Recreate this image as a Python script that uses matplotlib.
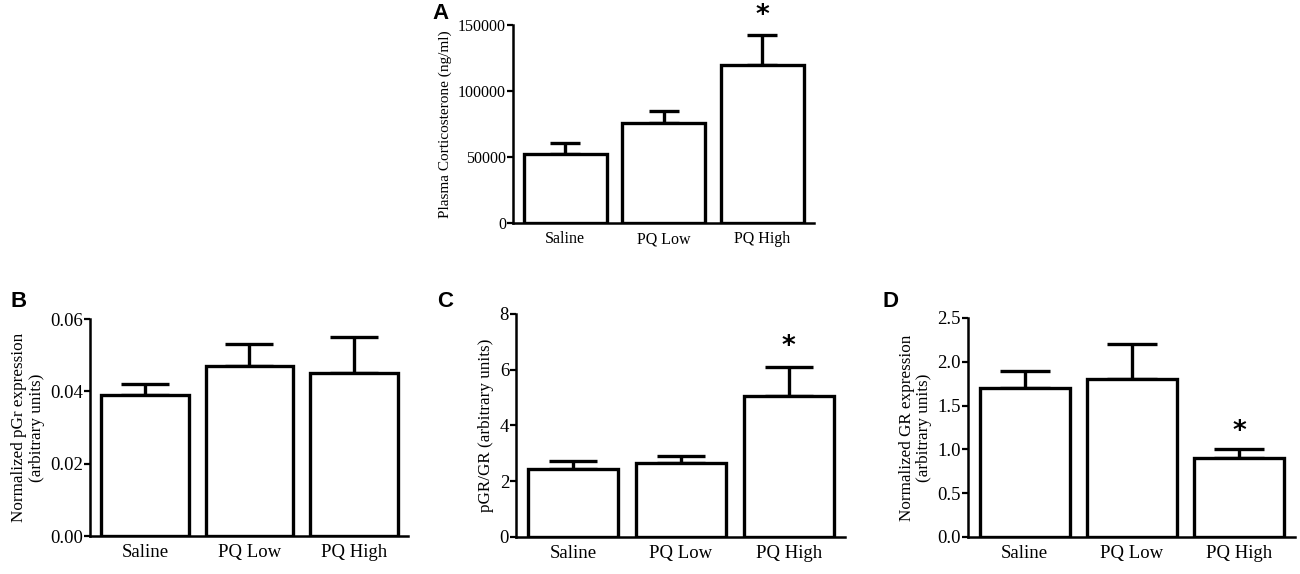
import matplotlib
matplotlib.use('Agg')
import matplotlib.pyplot as plt
import numpy as np

groups = ['Saline', 'PQ Low', 'PQ High']

cort_mean = [52000, 75500, 120000]
cort_err = [8500, 9500, 22500]

pgr_mean = [0.039, 0.047, 0.045]
pgr_err = [0.003, 0.006, 0.010]

ratio_mean = [2.45, 2.65, 5.05]
ratio_err = [0.27, 0.25, 1.05]

gr_mean = [1.70, 1.80, 0.90]
gr_err = [0.20, 0.40, 0.10]

plt.rcParams['font.family'] = ['Liberation Serif', 'DejaVu Serif']


def bar_panel(ax, means, errs, ylim, yticks, yticklabels, ylabel, capsize,
              star=None, tfs=13.5, lfs=12.3):
    x = np.arange(len(groups))
    ax.bar(x, means, width=0.84, color='white', edgecolor='black', linewidth=2.4, zorder=3)
    ax.errorbar(x, means, yerr=[np.zeros(len(errs)), errs], fmt='none', ecolor='black',
                elinewidth=2.4, capsize=capsize, capthick=2.4, zorder=2)
    ax.set_xlim(-0.53, 2.52)
    ax.set_ylim(*ylim)
    ax.set_yticks(yticks)
    ax.set_yticklabels(yticklabels, fontsize=tfs)
    ax.set_xticks(x)
    ax.set_xticklabels(groups, fontsize=tfs)
    ax.tick_params(axis='x', length=0, pad=6)
    ax.tick_params(axis='y', length=4, width=1.6, pad=1)
    for s in ['top', 'right']:
        ax.spines[s].set_visible(False)
    for s in ['left', 'bottom']:
        ax.spines[s].set_linewidth(1.8)
    ax.set_ylabel(ylabel, fontsize=lfs, linespacing=1.1, labelpad=4)
    if star is not None:
        i, yv = star
        ax.text(i, yv, '*', ha='center', va='center', fontsize=19, fontweight='bold',
                family='DejaVu Sans', clip_on=False)


fig = plt.figure(figsize=(13, 5.74), dpi=100)

axA = fig.add_axes([0.3945, 0.6115, 0.2315, 0.345])
bar_panel(axA, cort_mean, cort_err, (0, 150000), [0, 50000, 100000, 150000],
          ['0', '50000', '100000', '150000'], 'Plasma Corticosterone (ng/ml)', 11,
          star=(2, 157000), tfs=11.5, lfs=11)

axB = fig.add_axes([0.0692, 0.0662, 0.2446, 0.378])
bar_panel(axB, pgr_mean, pgr_err, (0, 0.06), [0, 0.02, 0.04, 0.06],
          ['0.00', '0.02', '0.04', '0.06'], 'Normalized pGr expression\n(arbitrary units)', 17)

axC = fig.add_axes([0.3969, 0.0645, 0.2531, 0.3885])
bar_panel(axC, ratio_mean, ratio_err, (0, 8), [0, 2, 4, 6, 8],
          ['0', '2', '4', '6', '8'], 'pGR/GR (arbitrary units)', 17, star=(2, 6.8))

axD = fig.add_axes([0.7446, 0.0645, 0.2515, 0.3815])
bar_panel(axD, gr_mean, gr_err, (0, 2.5), [0, 0.5, 1.0, 1.5, 2.0, 2.5],
          ['0.0', '0.5', '1.0', '1.5', '2.0', '2.5'],
          'Normalized GR expression\n(arbitrary units)', 18, star=(2, 1.2))

for lab, xp, yp in [('A', 0.333, 0.977), ('B', 0.008, 0.475), ('C', 0.336, 0.475), ('D', 0.679, 0.475)]:
    fig.text(xp, yp, lab, fontsize=16, fontweight='bold', family='Liberation Sans',
             ha='left', va='center')

fig.savefig('out.png', dpi=100)
